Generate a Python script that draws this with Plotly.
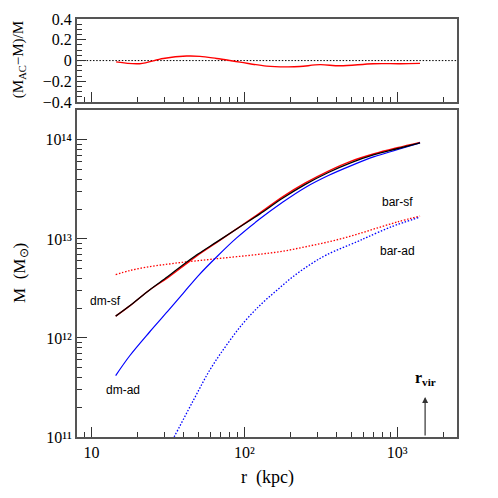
import numpy as np
import plotly.graph_objects as go

# radii (kpc) shared by the solid curves and bar-sf
r_kpc = [14.4, 17.8, 24.0, 31.6, 39.8, 50.1, 66.1, 89.1, 126, 178, 251, 355, 501, 708, 1000, 1413]
m_dm_sf = [1.660e12, 2.113e12, 3.055e12, 4.169e12, 5.495e12, 7.079e12, 9.333e12, 1.259e13,
           1.778e13, 2.570e13, 3.548e13, 4.677e13, 5.888e13, 7.079e13, 8.128e13, 9.333e13]
m_ac_sf = [1.66e12, 2.11e12, 3.05e12, 4.07e12, 5.31e12, 6.92e12, 9.23e12, 1.26e13,
           1.82e13, 2.66e13, 3.67e13, 4.84e13, 6.10e13, 7.24e13, 8.32e13, 9.44e13]
m_dm_ad = [4.17e11, 6.61e11, 1.148e12, 1.862e12, 2.818e12, 4.266e12, 6.607e12, 1.023e13,
           1.585e13, 2.344e13, 3.311e13, 4.365e13, 5.495e13, 6.761e13, 7.943e13, 9.333e13]
m_bar_sf = [4.37e12, 4.79e12, 5.25e12, 5.56e12, 5.82e12, 6.03e12, 6.31e12, 6.61e12,
            7.00e12, 7.50e12, 8.32e12, 9.33e12, 1.07e13, 1.26e13, 1.48e13, 1.70e13]

# bar-ad only enters the plotted range beyond ~35 kpc
r_bar_ad = [31.6, 34.7, 46.4, 59.7, 76.7, 98.4, 126.8, 162.9, 208.9, 269.2, 346.7, 544.5, 645.7, 912.0, 1412.5]
m_bar_ad = [7.76e10, 1.0e11, 2.34e11, 4.79e11, 8.51e11, 1.41e12, 2.14e12, 3.02e12, 4.17e12,
            5.50e12, 6.92e12, 9.33e12, 1.05e13, 1.32e13, 1.66e13]

# top panel: (M_AC - M)/M
r_frac = [14.5, 20.7, 29.5, 42.0, 51.3, 65.9, 93.8, 140, 189, 231, 313, 423, 698, 1047, 1413]
frac = [-0.012, -0.03, 0.02, 0.044, 0.041, 0.02, -0.015, -0.053, -0.06, -0.057, -0.039, -0.05,
        -0.03, -0.03, -0.027]

frac_ticks = [-0.4, -0.2, 0, 0.2, 0.4]
frac_ticktext = ["−0.4", "−0.2", "0", "0.2", "0.4"]
m_ticks = [1e11, 1e12, 1e13, 1e14]
m_ticktext = ["10¹¹", "10¹²", "10¹³", "10¹⁴"]
r_ticks = [10, 100, 1000]
r_ticktext = ["10", "10²", "10³"]

r_min, r_max = 8.04, 2466
r_vir = 1525

SERIF = "Liberation Serif"
SANS = "Liberation Sans"
AXCOL = "#555555"
TICKCOL = "#333333"
DOT = "1.5px,1.7px"

top = dict(xaxis="x", yaxis="y")
bot = dict(xaxis="x2", yaxis="y2")

fig = go.Figure()
fig.add_trace(go.Scatter(x=[r_min, r_max], y=[0, 0], mode="lines",
                         line=dict(color="black", width=1, dash=DOT), **top))
fig.add_trace(go.Scatter(x=r_frac, y=frac, mode="lines",
                         line=dict(color="red", width=1.4, shape="spline"), **top))

fig.add_trace(go.Scatter(x=r_kpc, y=m_bar_sf, mode="lines",
                         line=dict(color="red", width=1.3, dash=DOT, shape="spline"), **bot))
fig.add_trace(go.Scatter(x=r_bar_ad, y=m_bar_ad, mode="lines",
                         line=dict(color="blue", width=1.3, dash=DOT, shape="spline"), **bot))
fig.add_trace(go.Scatter(x=r_kpc, y=m_ac_sf, mode="lines",
                         line=dict(color="red", width=1.4, shape="spline"), **bot))
fig.add_trace(go.Scatter(x=r_kpc, y=m_dm_ad, mode="lines",
                         line=dict(color="blue", width=1.2, shape="spline"), **bot))
fig.add_trace(go.Scatter(x=r_kpc, y=m_dm_sf, mode="lines",
                         line=dict(color="black", width=1.3, shape="spline"), **bot))

tickfont = dict(family=SERIF, size=16, color="black")
frame = dict(showline=True, linecolor=AXCOL, linewidth=2, mirror=True, showgrid=False,
             ticks="inside", tickwidth=1, tickcolor=TICKCOL)
log_minor = dict(dtick="D1", ticks="inside", ticklen=5, tickwidth=1, tickcolor=TICKCOL)

xbase = dict(type="log", range=[np.log10(r_min), np.log10(r_max)], tickmode="array",
             tickvals=r_ticks, ticklen=10, minor=log_minor, **frame)

fig.update_layout(
    xaxis=dict(domain=[0, 1], anchor="y", matches="x2", showticklabels=False, **xbase),
    xaxis2=dict(domain=[0, 1], anchor="y2", ticktext=r_ticktext, tickfont=tickfont, **xbase),
    yaxis=dict(domain=[0.801, 1.0], anchor="x", range=[-0.4, 0.4], tickmode="array",
               tickvals=frac_ticks, ticktext=frac_ticktext, ticklen=9, tickfont=tickfont,
               minor=dict(dtick=0.05, ticks="inside", ticklen=5, tickwidth=1, tickcolor=TICKCOL),
               **frame),
    yaxis2=dict(domain=[0.0, 0.782], anchor="x2", type="log", range=[11, 14.3], tickmode="array",
                tickvals=m_ticks, ticktext=m_ticktext, ticklen=10, tickfont=tickfont,
                minor=log_minor, **frame),
)

lab = dict(font=dict(family=SANS, size=12, color="black"), showarrow=False, xref="x2", yref="y2",
           xanchor="center", yanchor="middle")
fig.add_annotation(x=np.log10(12.4), y=12.374, text="dm-sf", **lab)
fig.add_annotation(x=np.log10(16.1), y=11.475, text="dm-ad", **lab)
fig.add_annotation(x=np.log10(1000), y=13.374, text="bar-sf", **lab)
fig.add_annotation(x=np.log10(1000), y=12.879, text="bar-ad", **lab)

# r_vir arrow, pointing up from the axis
fig.add_annotation(x=np.log10(r_vir), y=11.404, xref="x2", yref="y2", text="", showarrow=True,
                   ax=0, ay=40, arrowhead=2, arrowsize=1, arrowwidth=1.2, arrowcolor="#333")
fig.add_annotation(x=np.log10(r_vir), y=11.59, xref="x2", yref="y2", showarrow=False,
                   xanchor="center", yanchor="middle",
                   text="<b>r</b><sub><b>vir</b></sub>", font=dict(family=SERIF, size=16, color="black"))

# axis titles
ttl = dict(xref="paper", yref="paper", showarrow=False, xanchor="center", yanchor="middle")
fig.add_annotation(x=0.5, y=-0.096, text="r  (kpc)", font=dict(family=SERIF, size=18, color="black"), **ttl)
fig.add_annotation(x=-0.148, y=0.392, text="M  (M<sub>⊙</sub>)", textangle=-90,
                   font=dict(family=SERIF, size=17, color="black"), **ttl)
fig.add_annotation(x=-0.152, y=0.902, text="(M<sub>AC</sub>−M)/M", textangle=-90,
                   font=dict(family=SERIF, size=15, color="black"), **ttl)

# page body adds an 8px offset, so margins are shifted to keep the frame where the reference has it
fig.update_layout(width=498, height=498, showlegend=False, template="simple_white",
                  margin=dict(l=69, r=49, t=11, b=69, autoexpand=False))

fig.write_html("out.html")
